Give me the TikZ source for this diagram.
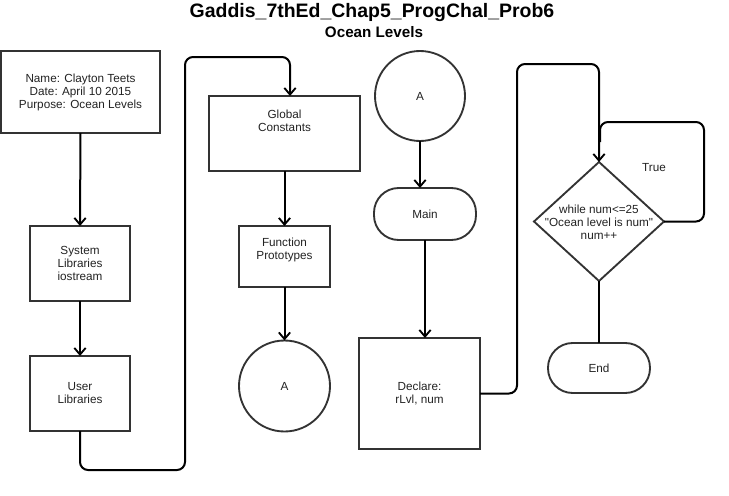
\documentclass[tikz,border=0pt]{standalone}
\usepackage{fontspec}
\setmainfont{Liberation Sans}[Ligatures=TeXOff]
\usetikzlibrary{arrows.meta,shapes.geometric,calc}
\definecolor{ink}{HTML}{222222}
\definecolor{edge}{HTML}{333333}
\tikzset{
  box/.style={draw=edge, line width=1.4pt, rectangle, inner sep=0pt, outer sep=0pt,
    font=\fontsize{8.8pt}{9.75pt}\selectfont, align=center, text=ink},
  term/.style={box, rounded corners=18.5pt},
  conn/.style={circle, draw=edge, line width=1.4pt, inner sep=0pt, outer sep=0pt,
    font=\fontsize{8.8pt}{9.75pt}\selectfont, text=ink},
  dec/.style={diamond, draw=edge, line width=1.4pt, inner sep=0pt, outer sep=0pt},
  txt/.style={font=\fontsize{8.8pt}{9.75pt}\selectfont, align=center, text=ink, inner sep=0pt},
  flow/.style={draw=black, line width=1.5pt, rounded corners=6pt,
    -{Straight Barb[length=5pt,width=8.5pt,line width=1.4pt]}},
  line/.style={draw=black, line width=1.5pt, rounded corners=6pt},
}
\begin{document}
\begin{tikzpicture}[x=0.75pt,y=-0.75pt]
\useasboundingbox (0,0) rectangle (729,496);
\node[font=\bfseries\fontsize{14.6pt}{16pt}\selectfont, anchor=base] (title) at (372,17) {Gaddis\_7thEd\_Chap5\_ProgChal\_Prob6};
\node[font=\bfseries\fontsize{11.4pt}{13pt}\selectfont, anchor=base] (sub) at (374,37) {Ocean Levels};

\node[box, minimum width=119.25pt, minimum height=61.5pt] (hdr) at (80.5,92) {Name: Clayton Teets\\Date: April 10 2015\\Purpose: Ocean Levels};
\node[box, minimum width=75pt, minimum height=56.25pt] (sys) at (80,263.5) {System\\Libraries\\iostream};
\node[box, minimum width=75pt, minimum height=56.25pt] (usr) at (80,393.5) {User\\Libraries};

\node[box, minimum width=113.25pt, minimum height=56.25pt,
  label={[txt, yshift=9.75pt]center:{Global\\Constants}}] (glob) at (284.5,133.5) {};
\node[box, minimum width=68.25pt, minimum height=45.75pt,
  label={[txt, yshift=4.9pt]center:{Function\\Prototypes}}] (func) at (284.5,256.5) {};
\node[conn, minimum size=68.25pt] (ca1) at (284.5,386) {A};

\node[conn, minimum size=67.5pt] (ca2) at (420,96) {A};
\node[term, minimum width=76.5pt, minimum height=39pt] (main) at (425,214) {Main};
\node[box, minimum width=90.75pt, minimum height=83.25pt] (decl) at (419.5,393.5) {Declare:\\rLvl, num};

\node[dec, minimum width=97.5pt, minimum height=89.25pt] (cond) at (599,221.5) {};
\node[txt] (condtxt) at (599,222) {while num<=25\\"Ocean level is num"\\num++};
\node[txt] (truelbl) at (654,168) {True};
\node[term, minimum width=76.5pt, minimum height=37.5pt] (end) at (599,368) {End};

\coordinate (b1) at (185,470);
\coordinate (b2) at (290,57);
\coordinate (d1) at (517,0);
\coordinate (d2) at (599,64);
\coordinate (t1) at (704,122);

\draw[flow] (hdr.south) -- (sys.north);
\draw[flow] (sys.south) -- (usr.north);
\draw[flow] (usr.south) |- (b1) |- (b2) -- (b2 |- glob.north);
\draw[flow] (glob.south) -- (func.north);
\draw[flow] (func.south) -- (ca1.north);
\draw[flow] (ca2.south) -- (ca2.south |- main.north);
\draw[flow] (main.south) -- (main.south |- decl.north);
\draw[flow] (decl.east) -- (decl.east -| d1) -- (d1 |- d2) -- (d2) -- (cond.north);
\draw[line] (cond.east) -| (t1) -- ($(cond.north |- t1)+(1,0)$) -- ($(cond.north)+(1,-20)$);
\draw[line] (cond.south) -- (end.north);
\end{tikzpicture}
\end{document}
